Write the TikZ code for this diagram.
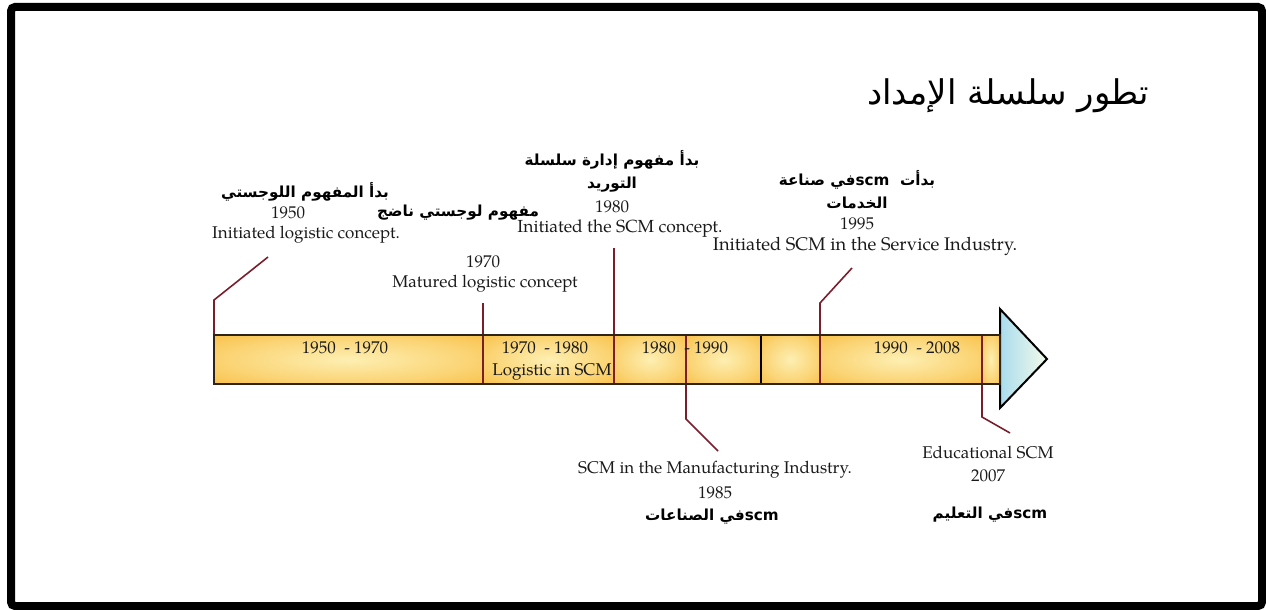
\documentclass[tikz,border=0pt]{standalone}
\usepackage{fontspec}
\setmainfont{TeX Gyre Pagella}
\newfontfamily\arabicfont[Script=Arabic]{DejaVu Sans}
\TeXXeTstate=1
\definecolor{markred}{HTML}{7B1E2C}
\definecolor{bardark}{HTML}{F8B52E}
\definecolor{barlight}{HTML}{FDEFB2}
\definecolor{baredge}{HTML}{2E2418}
\definecolor{arrowblue}{HTML}{A9DCEE}
\definecolor{arrowlight}{HTML}{F4FAEA}
\definecolor{textgray}{HTML}{1A1A1A}
\pgfdeclareradialshading{barglow}{\pgfpoint{0bp}{0bp}}{color(0bp)=(barlight); color(22bp)=(barlight!55!bardark); color(45bp)=(bardark); color(60bp)=(bardark)}
\begin{document}
\begin{tikzpicture}[x=1pt,y=-1pt,
  en/.style={font=\fontsize{17}{20}\selectfont, text=textgray, inner sep=0pt, anchor=center},
  ar/.style={font=\arabicfont\bfseries\fontsize{15.2}{18}\selectfont, inner sep=0pt, anchor=center},
  ttl/.style={font=\arabicfont\fontsize{34}{38}\selectfont, inner sep=0pt, anchor=center},
  marker/.style={draw=markred, line width=1.6pt},
  segment/.style={shading=barglow}
]
\useasboundingbox (0,0) rectangle (1266,610);
% frame
\draw[line width=8pt, rounded corners=4pt] (11,7) rectangle (1262,606);

% title
\node[ttl] (title) at (1008,96) {\beginR تطور سلسلة الإمداد\endR};

% bar segments
\shade[segment] (214,335) rectangle (483,384);
\shade[segment] (483,335) rectangle (614,384);
\shade[segment] (614,335) rectangle (686,384);
\shade[segment] (686,335) rectangle (761,384);
\shade[segment] (761,335) rectangle (820,384);
\shade[segment] (820,335) rectangle (982,384);
\shade[segment] (982,335) rectangle (1000,384);

% arrow head
\shadedraw[left color=arrowblue, right color=arrowlight, draw=black, line width=2pt, line join=miter]
  (1000,309) -- (1047,359) -- (1000,408) -- cycle;

% coordinates for markers
\coordinate (a1) at (214,335); \coordinate (a2) at (214,300); \coordinate (a3) at (268,257);
\coordinate (b1) at (483,384); \coordinate (b2) at (483,303);
\coordinate (c1) at (614,384); \coordinate (c2) at (614,248);
\coordinate (d1) at (686,335); \coordinate (d2) at (686,419); \coordinate (d3) at (718,451);
\coordinate (e1) at (820,384); \coordinate (e2) at (820,303); \coordinate (e3) at (852,268);
\coordinate (f1) at (982,335); \coordinate (f2) at (982,417); \coordinate (f3) at (1010,433);
\coordinate (g1) at (761,335); \coordinate (g2) at (761,384);

\draw[marker] (a1) -- (a2) -- (a3);
\draw[marker] (b1) -- (b2);
\draw[marker] (c1) -- (c2);
\draw[marker] (d1) -- (d2) -- (d3);
\draw[marker] (e1) -- (e2) -- (e3);
\draw[marker] (f1) -- (f2) -- (f3);
\draw[line width=2.2pt, draw=black] (g1) -- (g2);

% bar outline
\draw[line width=1.8pt, draw=baredge] (214,335) rectangle (1000,384);

% bar labels
\node[en] (s1) at (345,348) {1950\ \ - 1970};
\node[en] (s2) at (545,348) {1970\ \ - 1980};
\node[en] (s3) at (552,372) {Logistic in SCM};
\node[en] (s4) at (685,348) {1980\ \ - 1990};
\node[en] (s5) at (917,348) {1990\ \ - 2008};

% 1950
\node[ar] (ar50) at (305,192) {\beginR بدأ المفهوم اللوجستي\endR};
\node[en] (y50) at (288,213) {1950};
\node[en] (en50) at (306,235) {Initiated logistic concept.};

% 1970
\node[ar] (ar70) at (458,213) {\beginR مفهوم لوجستي ناضج\endR};
\node[en] (y70) at (483,262) {1970};
\node[en] (en70) at (485,284) {Matured logistic concept};

% 1980
\node[ar] (ar80a) at (612,160) {\beginR بدأ مفهوم إدارة سلسلة\endR};
\node[ar] (ar80b) at (612,185) {\beginR التوريد\endR};
\node[en] (y80) at (612,207) {1980};
\node[en, font=\fontsize{17.5}{20}\selectfont] (en80) at (620,229) {Initiated the SCM concept.};

% 1995
\node[ar] (ar95a) at (857,180) {\beginR بدأت \ \beginL scm\endL في صناعة\endR};
\node[ar] (ar95b) at (857,203) {\beginR الخدمات\endR};
\node[en] (y95) at (857,224) {1995};
\node[en, font=\fontsize{18.3}{20}\selectfont] (en95) at (865,246) {Initiated SCM in the Service Industry.};

% 1985
\node[en] (en85) at (715,470) {SCM in the Manufacturing Industry.};
\node[en] (y85) at (715,493) {1985};
\node[ar] (ar85) at (712,517) {\beginR\beginL scm\endL في الصناعات\endR};

% 2007
\node[en] (en07) at (988,452) {Educational SCM};
\node[en] (y07) at (988,476) {2007};
\node[ar] (ar07) at (990,515) {\beginR\beginL scm\endL في التعليم\endR};
\end{tikzpicture}
\end{document}
